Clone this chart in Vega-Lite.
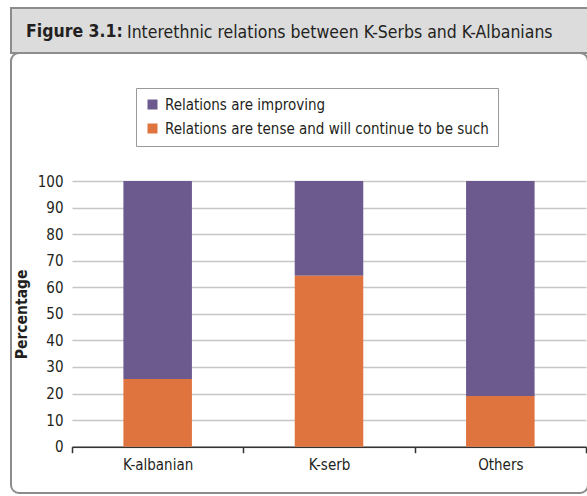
{
  "$schema": "https://vega.github.io/schema/vega-lite/v6.json",
  "padding": {"left": 10, "top": 7, "right": 0, "bottom": 0},
  "background": "white",
  "config": {
    "font": "'Liberation Sans Narrow', 'DejaVu Sans Condensed', 'Roboto Condensed', 'Liberation Sans', sans-serif",
    "view": {"stroke": null},
    "title": {"color": "#231f20", "fontSize": 17.5}
  },
  "title": {"text": "Figure 3.1:", "anchor": "start", "fontWeight": "bold", "dx": 16, "offset": -47, "baseline": "alphabetic"},
  "spacing": 0,
  "bounds": "flush",
  "resolve": {"legend": {"color": "independent"}},
  "vconcat": [
    {
      "width": 577,
      "height": 45,
      "view": {"fill": "#dcdcdd", "stroke": "#8c8c8c", "strokeWidth": 2},
      "title": {"text": "Interethnic relations between K-Serbs and K-Albanians", "anchor": "start", "fontWeight": "normal", "dx": 116, "offset": -47, "baseline": "alphabetic"},
      "data": {"values": [{}]},
      "mark": {"type": "point", "opacity": 0},
      "encoding": {}
    },
    {
      "width": 577,
      "height": 440,
      "view": {"fill": "white", "stroke": "#8c8c8c", "strokeWidth": 2, "cornerRadius": 8},
      "data": {
        "values": [
          {"group": "K-albanian", "series": "Relations are improving", "pct": 74.5},
          {"group": "K-albanian", "series": "Relations are tense and will continue to be such", "pct": 25.5},
          {"group": "K-serb", "series": "Relations are improving", "pct": 35.7},
          {"group": "K-serb", "series": "Relations are tense and will continue to be such", "pct": 64.3},
          {"group": "Others", "series": "Relations are improving", "pct": 80.9},
          {"group": "Others", "series": "Relations are tense and will continue to be such", "pct": 19.1}
        ]
      },
      "mark": {"type": "bar", "width": {"band": 0.4}},
      "encoding": {
        "x": {
          "field": "group", "type": "nominal", "sort": null,
          "scale": {"paddingInner": 0, "paddingOuter": 0, "range": [61, 575]},
          "axis": {"title": null, "offset": -46.3, "labelAngle": 0, "tickBand": "extent", "domainColor": "#333333", "domainWidth": 1.5, "tickColor": "#333333", "tickWidth": 1.5, "tickSize": 6, "labelFontSize": 15, "labelColor": "#231f20", "labelPadding": 5}
        },
        "y": {
          "field": "pct", "type": "quantitative", "stack": "zero",
          "scale": {"domain": [0, 100], "nice": false, "range": [393.7, 128]},
          "axis": {"title": "Percentage", "offset": -61, "values": [0, 10, 20, 30, 40, 50, 60, 70, 80, 90, 100], "domain": false, "ticks": false, "gridColor": "#c6c6c6", "gridWidth": 1.5, "labelFontSize": 15, "labelColor": "#231f20", "labelPadding": 9, "titleFontSize": 15.5, "titleFontWeight": "bold", "titleColor": "#231f20", "titlePadding": 8}
        },
        "color": {
          "field": "series", "type": "nominal",
          "scale": {"domain": ["Relations are improving", "Relations are tense and will continue to be such"], "range": ["#6c5a8f", "#e0743f"]},
          "legend": {"title": null, "orient": "none", "legendX": 125, "legendY": 35, "symbolType": "square", "symbolSize": 100, "symbolStrokeWidth": 0, "labelFontSize": 15, "labelColor": "#231f20", "labelLimit": 400, "strokeColor": "#999999", "fillColor": "white", "padding": 9, "rowPadding": 8, "labelOffset": 5}
        },
        "order": {"field": "series", "sort": "descending"}
      }
    }
  ]
}
